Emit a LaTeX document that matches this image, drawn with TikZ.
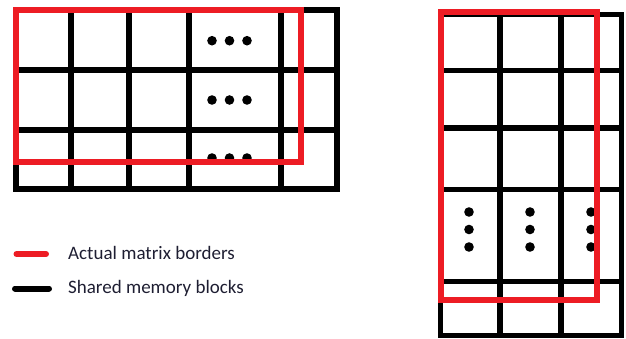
\documentclass[tikz,border=0pt]{standalone}
\usepackage{fontspec}
\setmainfont{Carlito}
\definecolor{redb}{RGB}{237,28,36}
\definecolor{txt}{RGB}{30,30,50}
\begin{document}
\begin{tikzpicture}[x=1pt,y=-1pt,
  grid/.style={line width=6pt,black},
  border/.style={line width=6pt,redb},
  dotm/.style={fill=black},
  legtext/.style={anchor=base west,inner sep=0pt,text=txt,font=\fontsize{19}{22}\selectfont}]
\useasboundingbox (0,0) rectangle (626,338);
% left grid
\draw[grid] (16,10) rectangle (337,189);
\foreach \x in {71,128.5,189,281} \draw[grid] (\x,10) -- (\x,189);
\foreach \y in {69.5,129.5} \draw[grid] (16,\y) -- (337,\y);
\foreach \y in {40.7,100,158}
  \foreach \x in {212,229.5,247} \fill[dotm] (\x,\y) circle (4.8pt);
\draw[border] (16,10) rectangle (301,161.5);
% right grid
\draw[grid,line width=5.8pt] (440.5,14.5) rectangle (621.5,335.5);
\foreach \x in {500,561} \draw[grid,line width=5.8pt] (\x,14.5) -- (\x,335.5);
\foreach \y in {70.5,128,189.5,281.5} \draw[grid,line width=5.8pt] (440.5,\y) -- (621.5,\y);
\foreach \x in {469,530,591}
  \foreach \y in {212,229.5,247} \fill[dotm] (\x,\y) circle (4.8pt);
\draw[border] (441,12) rectangle (597,300);
% legend
\coordinate (r1) at (16.5,254);
\coordinate (r2) at (46,254);
\coordinate (b1) at (15,288.5);
\coordinate (b2) at (49,288.5);
\draw[border,line cap=round] (r1) -- (r2);
\draw[grid,line cap=round] (b1) -- (b2);
\node[legtext] (l1) at (68,259.5) {Actual matrix borders};
\node[legtext] (l2) at (68,293.5) {Shared memory blocks};
\end{tikzpicture}
\end{document}
